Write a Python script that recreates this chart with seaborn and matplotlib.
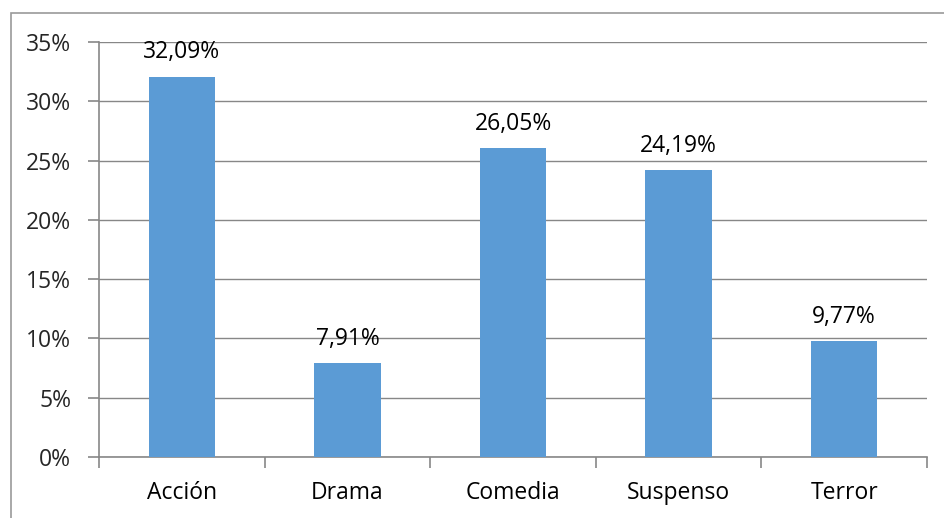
import matplotlib
matplotlib.use("Agg")
import matplotlib.pyplot as plt
import pandas as pd
import seaborn as sns
from matplotlib.patches import Rectangle
from matplotlib.ticker import FuncFormatter, MultipleLocator

GENRES = ["Acción", "Drama", "Comedia", "Suspenso", "Terror"]
SHARES = [32.09, 7.91, 26.05, 24.19, 9.77]
BAR_COLOR = "#5B9BD5"
LINE_COLOR = "#878787"
FONT_SIZE = 16.5

sns.set_theme(style="white")
plt.rcParams["font.family"] = ["Open Sans", "DejaVu Sans"]

frame = pd.DataFrame({"genre": GENRES, "share": SHARES})

fig = plt.figure(figsize=(9.44, 5.18), dpi=100)
ax = fig.add_axes([99 / 944, 61 / 518, 828 / 944, 415 / 518])

sns.barplot(data=frame, x="genre", y="share", color=BAR_COLOR,
            width=0.4, saturation=1, linewidth=0, ax=ax, zorder=3)

ax.set_ylim(0, 35)
ax.set_xlim(-0.5, len(GENRES) - 0.5)
ax.yaxis.set_major_locator(MultipleLocator(5))
ax.yaxis.set_major_formatter(FuncFormatter(lambda v, _: f"{v:.0f}%"))
ax.grid(axis="y", color=LINE_COLOR, linewidth=1.0, zorder=0)
ax.set_axisbelow(True)
ax.set(xlabel="", ylabel="")

for side in ["top", "right"]:
    ax.spines[side].set_visible(False)
for side in ["left", "bottom"]:
    ax.spines[side].set_color(LINE_COLOR)
    ax.spines[side].set_linewidth(1.2)

# category boundary ticks on x, labels centered
ax.set_xticks(range(len(GENRES)))
ax.set_xticklabels(GENRES)
ax.tick_params(axis="x", length=0, pad=17, labelsize=FONT_SIZE, colors="black")
ax.set_xticks([i - 0.5 for i in range(len(GENRES) + 1)], minor=True)
ax.tick_params(axis="x", which="minor", length=8, width=1.2, color=LINE_COLOR,
               direction="out", bottom=True)
ax.tick_params(axis="y", length=8, width=1.2, color=LINE_COLOR, pad=12,
               labelsize=FONT_SIZE, direction="out", left=True)

for i, v in enumerate(SHARES):
    ax.annotate(f"{v:.2f}%".replace(".", ","), (i, v), xytext=(0, 9),
                textcoords="offset points", ha="center", va="bottom",
                fontsize=FONT_SIZE, color="black")

fig.patches.append(Rectangle((11 / 944, -0.1), 1.2, 1 - 13 / 518 + 0.1,
                             transform=fig.transFigure, fill=False,
                             edgecolor="#9a9a9a", linewidth=1.2))

fig.savefig("out.png", dpi=100, facecolor="white")
